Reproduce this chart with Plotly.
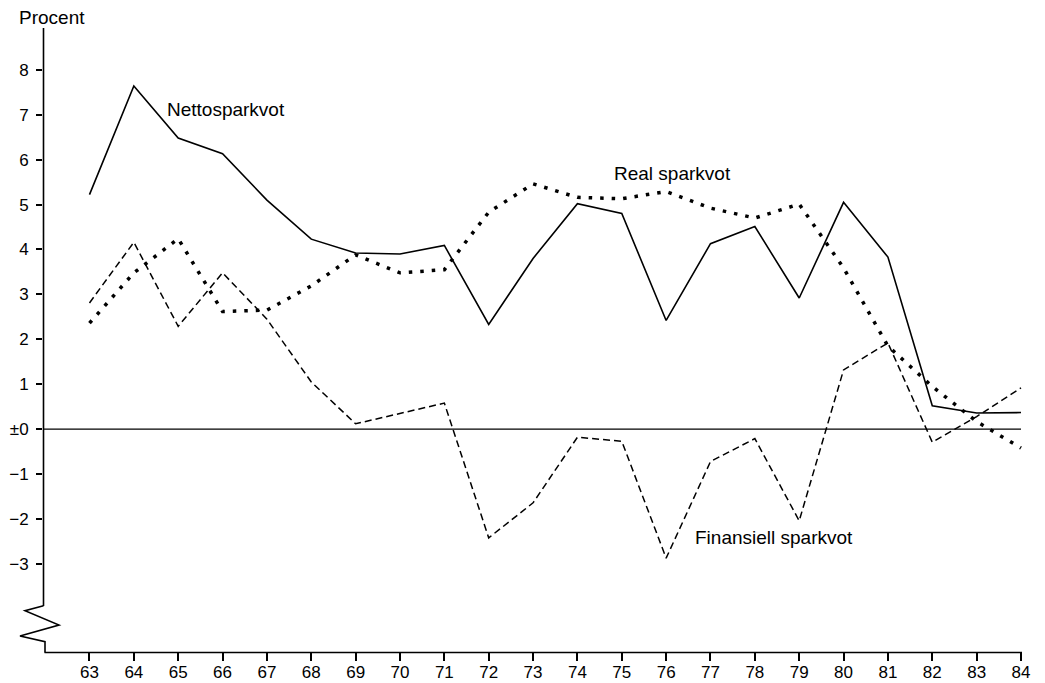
import plotly.graph_objects as go

# ---- data ----
years = list(range(63, 85))
netto = [5.22, 7.64, 6.48, 6.13, 5.10, 4.23, 3.92, 3.90, 4.09, 2.33, 3.80, 5.02,
         4.80, 2.42, 4.13, 4.51, 2.92, 5.05, 3.83, 0.52, 0.36, 0.37]
real = [2.36, 3.48, 4.24, 2.62, 2.65, 3.19, 3.88, 3.48, 3.55, 4.83, 5.46, 5.16,
        5.13, 5.29, 4.92, 4.70, 5.01, 3.59, 1.85, 0.95, 0.17, -0.42]
finans = [2.81, 4.16, 2.29, 3.48, 2.45, 1.05, 0.12, 0.35, 0.58, -2.42, -1.64, -0.18,
          -0.27, -2.87, -0.72, -0.21, -2.04, 1.32, 1.92, -0.29, 0.28, 0.92]
ytick_vals = [-3, -2, -1, 0, 1, 2, 3, 4, 5, 6, 7, 8]
ytick_text = ["\u22123", "\u22122", "\u22121", "\u00b10", "1", "2", "3", "4", "5", "6", "7", "8"]
series_labels = ["Nettosparkvot", "Real sparkvot", "Finansiell sparkvot"]

# ---- layout / style ----
OFF = 8  # default page body margin
W, H = 1045 - OFF, 683 - OFF
# plot area in page pixels
L, R, T, B = 43, 1043, 28, 652
XR = [61.952, 84.496]
YR = [-4.96, 8.93]
FONT = "Liberation Sans, Arial, sans-serif"


def px(x):
    return (x - L) / (R - L)


def py(y):
    return (B - y) / (B - T)


fig = go.Figure()
fig.add_trace(go.Scatter(x=years, y=netto, mode="lines", name=series_labels[0],
                         line=dict(color="black", width=1.6)))
fig.add_trace(go.Scatter(x=years, y=real, mode="lines", name=series_labels[1],
                         line=dict(color="black", width=3.5, dash="3.5px,8px")))
fig.add_trace(go.Scatter(x=years, y=finans, mode="lines", name=series_labels[2],
                         line=dict(color="black", width=1.5, dash="7px,4px")))

# zero line
fig.add_shape(type="line", xref="x", yref="y", x0=XR[0], x1=years[-1], y0=0, y1=0,
              line=dict(color="black", width=1.2))

AX = dict(color="black", width=1.6)
# y axis upper part
fig.add_shape(type="line", xref="paper", yref="paper", x0=px(43.5), x1=px(43.5),
              y0=py(28), y1=py(606), line=AX)
# axis break zigzag
zig = [(43.5, 605.7), (25, 610.7), (59, 625), (20, 636), (45, 641.7), (45, 652.5)]
path = "M " + " L ".join(f"{px(a):.5f},{py(b):.5f}" for a, b in zig)
fig.add_shape(type="path", xref="paper", yref="paper", path=path, line=AX)
# bottom axis
fig.add_shape(type="line", xref="paper", yref="paper", x0=px(44.5), x1=px(1022),
              y0=py(652.5), y1=py(652.5), line=AX)

anns = [
    ("Procent", 17, 17),
    (series_labels[0], 165, 110),
    (series_labels[1], 612, 174),
    (series_labels[2], 693, 537),
]
for text, x, y in anns:
    fig.add_annotation(text=text, xref="paper", yref="paper", x=px(x), y=py(y),
                       xanchor="left", yanchor="middle", showarrow=False,
                       font=dict(family=FONT, size=19, color="black"))

fig.update_layout(
    width=W, height=H,
    margin=dict(l=L - OFF, r=W - (R - OFF), t=T - OFF, b=H - (B - OFF), autoexpand=False),
    paper_bgcolor="white", plot_bgcolor="white",
    showlegend=False,
    font=dict(family=FONT, size=17, color="black"),
)
fig.update_xaxes(range=XR, tickmode="array", tickvals=years,
                 ticktext=[str(y) for y in years], ticks="outside", ticklen=8,
                 tickwidth=1.5, tickcolor="black", showgrid=False, zeroline=False,
                 showline=False, automargin=False, ticklabelstandoff=-3,
                 tickfont=dict(size=17, family=FONT))
fig.update_yaxes(range=YR, tickmode="array", tickvals=ytick_vals, ticktext=ytick_text,
                 ticks="outside", ticklen=6, tickwidth=1.5, tickcolor="black",
                 showgrid=False, zeroline=False, showline=False, automargin=False,
                 ticklabelstandoff=4, tickfont=dict(size=17, family=FONT))

fig.write_html("out.html")
